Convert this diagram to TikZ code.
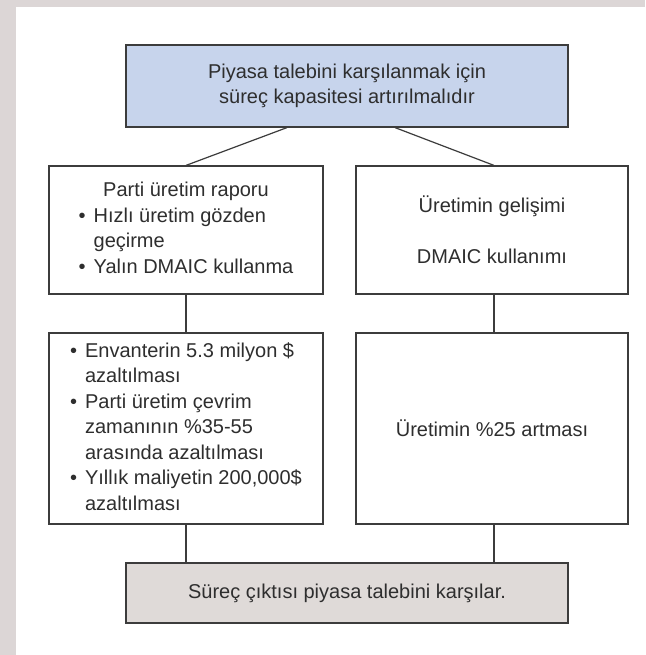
\documentclass[tikz,border=0pt]{standalone}
\usepackage{fontspec}
\setmainfont{Liberation Sans}
\usetikzlibrary{calc}
\definecolor{frame}{HTML}{DCD6D6}
\definecolor{bluefill}{HTML}{C7D4EC}
\definecolor{grayfill}{HTML}{DFDAD8}
\definecolor{edge}{HTML}{3C3C3C}
\definecolor{ink}{HTML}{2E2E2E}
\newcommand{\bul}{\makebox[15pt][l]{•}}
\newcommand{\ind}{\hspace*{15pt}}
\begin{document}
\begin{tikzpicture}[x=1pt,y=-1pt,
  box/.style={draw=edge,line width=1.2pt,inner sep=0pt,text=ink,
    font=\fontsize{20}{25.5}\selectfont,align=center},
  link/.style={draw=edge,line width=1.2pt}]
\fill[frame] (0,0) rectangle (645,655);
\fill[white] (16,7) rectangle (645,655);
\useasboundingbox (0,0) rectangle (645,655);

\node[box,fill=bluefill,minimum width=442pt,minimum height=82pt] (top) at (347,86)
  {Piyasa talebini karşılanmak için\\süreç kapasitesi artırılmalıdır};

\node[box,minimum width=274pt,minimum height=128pt] (lu) at (186,230)
  {\begin{tabular}{@{}l@{}}
   \multicolumn{1}{c}{Parti üretim raporu}\\
   \bul Hızlı üretim gözden\\
   \ind geçirme\\
   \bul Yalın DMAIC kullanma
   \end{tabular}};

\node[box,minimum width=272pt,minimum height=128pt] (ru) at (492,230)
  {Üretimin gelişimi\\[25.5pt]DMAIC kullanımı};

\node[box,minimum width=274pt,minimum height=191pt] (ll) at (186,428.5)
  {\begin{tabular}{@{}l@{}}
   \bul Envanterin 5.3 milyon \$\\
   \ind azaltılması\\
   \bul Parti üretim çevrim\\
   \ind zamanının \%35-55\\
   \ind arasında azaltılması\\
   \bul Yıllık maliyetin 200,000\$\\
   \ind azaltılması
   \end{tabular}};

\node[box,minimum width=272pt,minimum height=191pt] (rl) at (492,428.5)
  {Üretimin \%25 artması};

\node[box,fill=grayfill,minimum width=442pt,minimum height=60pt] (bot) at (347,593)
  {Süreç çıktısı piyasa talebini karşılar.};

\coordinate (tl) at ([xshift=-60pt]top.south);
\coordinate (tr) at ([xshift=48pt]top.south);
\draw[link] (tl) -- (lu.north);
\draw[link] (tr) -- ([xshift=2pt]ru.north);
\draw[link] (lu.south) -- (ll.north);
\draw[link] ([xshift=2pt]ru.south) -- ([xshift=2pt]rl.north);
\draw[link] (ll.south) -- (ll.south |- bot.north);
\draw[link] ([xshift=2pt]rl.south) -- ([xshift=2pt]rl.south |- bot.north);
\end{tikzpicture}
\end{document}
